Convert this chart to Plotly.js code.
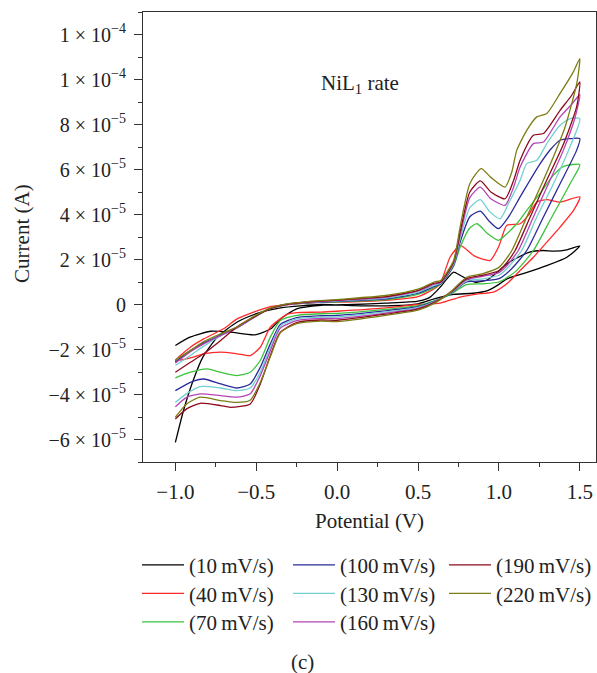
<!DOCTYPE html>
<html>
<head>
<meta charset="utf-8">
<script src="https://cdn.plot.ly/plotly-3.0.1.min.js"></script>
<style>html,body{margin:0;padding:0;background:#fff;}#chart{width:597px;height:673px;}</style>
</head>
<body>
<div id="chart"></div>
<script>
// Current values are in units of 1e-5 A; potential in V.
// Each sweep: forward scan -1.0 -> 1.5 V, then reverse scan 1.5 -> -1.0 V.
const UNIT = 1e-5;
const rates = ["(10\u2009mV/s)","(40\u2009mV/s)","(70\u2009mV/s)","(100\u2009mV/s)","(130\u2009mV/s)","(160\u2009mV/s)","(190\u2009mV/s)","(220\u2009mV/s)"];
const colors = ["#000000","#ff2a2a","#3cc23c","#2a2a9c","#72d0d0","#b444b4","#8c0a1c","#7c7c14"];

// 10 mV/s
const x10 = [-1.0,-0.91,-0.78,-0.66,-0.51,-0.41,-0.35,-0.25,-0.1,0.1,0.3,0.5,0.575,0.637,0.68,0.72,0.76,0.8,0.86,0.93,1.0,1.05,1.12,1.19,1.27,1.34,1.42,1.5,
             1.42,1.3,1.15,1.05,0.99,0.93,0.84,0.72,0.6,0.5,0.3,0.1,-0.1,-0.35,-0.5,-0.62,-0.74,-0.83,-0.89,-0.95,-1.0];
const y10 = [-1.82,-1.45,-1.19,-1.23,-1.35,-1.08,-0.64,-0.19,-0.04,0.0,0.06,0.15,0.33,0.77,1.15,1.44,1.3,1.14,0.99,1.1,1.5,1.81,2.1,2.33,2.4,2.37,2.43,2.6,
             2.1,1.74,1.37,1.14,0.85,0.62,0.5,0.45,0.25,0.03,-0.06,-0.05,0.0,-0.15,-0.41,-0.79,-1.45,-2.34,-3.38,-4.72,-6.13];
// 40 mV/s
const x40 = [-1.0,-0.907,-0.825,-0.702,-0.619,-0.516,-0.413,-0.25,-0.104,0.1,0.3,0.5,0.6,0.637,0.698,0.76,0.85,0.946,1.0,1.049,1.131,1.18,1.234,1.296,1.378,1.5,
             1.461,1.378,1.296,1.213,1.131,1.049,0.966,0.884,0.76,0.637,0.5,0.3,0.0,-0.1,-0.25,-0.31,-0.413,-0.475,-0.537,-0.619,-0.722,-0.825,-0.907,-1.0];
const y40 = [-2.49,-1.9,-1.53,-1.08,-0.64,-0.34,-0.09,0.03,0.1,0.12,0.18,0.35,0.7,0.92,2.1,2.63,2.15,1.96,2.6,3.52,3.59,3.95,4.55,4.66,4.55,4.78,
             4.18,3.44,2.77,2.1,1.51,0.92,0.55,0.48,0.33,0.06,0.0,-0.15,-0.3,-0.34,-0.36,-0.44,-1.01,-1.9,-2.27,-2.19,-2.12,-2.19,-2.37,-2.49];
// 70 mV/s
const x70 = [-1.0,-0.907,-0.825,-0.72,-0.62,-0.52,-0.42,-0.32,-0.2,0.0,0.3,0.5,0.6,0.64,0.72,0.76,0.82,0.865,0.93,0.997,1.05,1.11,1.172,1.255,1.337,1.4,1.5,
             1.44,1.327,1.213,1.1,1.0,0.9,0.8,0.7,0.6,0.5,0.3,0.0,-0.1,-0.25,-0.351,-0.413,-0.475,-0.537,-0.62,-0.722,-0.804,-0.907,-1.0];
const y70 = [-2.57,-2.05,-1.7,-1.35,-1.02,-0.6,-0.2,-0.02,0.06,0.12,0.22,0.45,0.75,0.9,1.7,2.55,3.4,3.59,3.15,2.85,3.15,3.59,4.18,4.95,5.75,6.14,6.22,
             5.37,3.89,2.4,1.45,1.0,0.92,0.88,0.45,0.16,-0.05,-0.22,-0.4,-0.41,-0.48,-0.71,-1.45,-2.49,-3.01,-3.16,-3.01,-2.86,-3.01,-3.26];
// 100 mV/s
const x100 = [-1.0,-0.907,-0.825,-0.72,-0.62,-0.52,-0.42,-0.32,-0.2,0.0,0.3,0.5,0.6,0.64,0.72,0.76,0.82,0.885,0.94,0.997,1.06,1.131,1.19,1.255,1.32,1.378,1.44,1.5,
              1.48,1.378,1.275,1.172,1.08,1.0,0.9,0.8,0.7,0.6,0.5,0.3,0.0,-0.1,-0.25,-0.351,-0.413,-0.475,-0.537,-0.62,-0.72,-0.825,-0.907,-1.0];
const y100 = [-2.57,-2.05,-1.72,-1.37,-1.03,-0.6,-0.2,-0.02,0.07,0.14,0.25,0.5,0.8,0.92,1.75,2.77,3.9,4.15,3.7,3.37,3.9,4.78,5.5,6.26,6.9,7.3,7.37,7.37,
              6.85,5.37,3.89,2.4,1.6,1.15,1.05,1.0,0.48,0.14,-0.1,-0.28,-0.48,-0.5,-0.58,-0.89,-1.75,-2.79,-3.53,-3.71,-3.53,-3.31,-3.46,-3.83];
// 130 mV/s
const x130 = [-1.0,-0.907,-0.825,-0.72,-0.62,-0.52,-0.42,-0.32,-0.2,0.0,0.3,0.5,0.6,0.64,0.72,0.76,0.82,0.885,0.94,1.007,1.06,1.131,1.172,1.234,1.3,1.378,1.44,1.5,
              1.43,1.337,1.234,1.141,1.05,1.0,0.9,0.8,0.7,0.6,0.5,0.3,0.0,-0.1,-0.25,-0.351,-0.413,-0.475,-0.537,-0.62,-0.72,-0.846,-0.928,-1.0];
const y130 = [-2.71,-2.27,-1.85,-1.4,-1.05,-0.6,-0.2,-0.02,0.08,0.16,0.28,0.55,0.85,0.95,1.8,2.92,4.3,4.66,4.15,3.81,4.5,5.52,6.26,6.41,7.2,7.97,8.26,8.26,
              6.85,5.37,3.89,2.4,1.6,1.3,1.14,1.05,0.5,0.12,-0.13,-0.33,-0.55,-0.56,-0.64,-0.97,-1.9,-3.01,-3.71,-3.83,-3.71,-3.65,-3.95,-4.35];
// 160 mV/s
const x160 = [-1.0,-0.907,-0.825,-0.72,-0.62,-0.52,-0.42,-0.32,-0.2,0.0,0.3,0.5,0.6,0.64,0.72,0.76,0.82,0.885,0.95,1.038,1.09,1.131,1.213,1.275,1.378,1.45,1.5,
              1.47,1.398,1.306,1.213,1.12,1.04,1.0,0.9,0.8,0.7,0.6,0.5,0.3,0.0,-0.1,-0.25,-0.351,-0.413,-0.475,-0.537,-0.62,-0.72,-0.846,-0.928,-1.0];
const y160 = [-2.6,-2.1,-1.75,-1.38,-1.04,-0.6,-0.2,-0.01,0.09,0.18,0.32,0.6,0.9,0.98,1.85,3.07,4.75,5.22,4.7,4.41,5.2,6.11,7.15,7.22,8.34,8.9,9.33,
              8.3,6.85,5.37,3.89,2.4,1.65,1.42,1.25,1.1,0.52,0.1,-0.17,-0.38,-0.62,-0.62,-0.72,-1.05,-2.05,-3.16,-3.97,-4.12,-4.05,-3.97,-4.12,-4.54];
// 190 mV/s
const x190 = [-1.0,-0.907,-0.825,-0.72,-0.62,-0.52,-0.42,-0.32,-0.2,0.0,0.3,0.5,0.6,0.64,0.72,0.76,0.82,0.885,0.95,1.038,1.09,1.131,1.213,1.275,1.378,1.45,1.5,
              1.48,1.4,1.285,1.193,1.1,1.03,1.0,0.9,0.8,0.7,0.6,0.5,0.3,0.0,-0.1,-0.25,-0.351,-0.413,-0.475,-0.537,-0.66,-0.72,-0.846,-0.93,-1.0];
const y190 = [-3.01,-2.57,-2.19,-1.6,-1.0,-0.58,-0.2,0.0,0.1,0.2,0.35,0.63,0.95,1.0,1.9,3.22,5.0,5.49,5.0,4.7,5.5,6.41,7.52,7.6,8.63,9.3,9.89,
              8.78,7.15,5.37,3.89,2.4,1.7,1.5,1.3,1.15,0.54,0.08,-0.21,-0.43,-0.7,-0.69,-0.8,-1.23,-2.27,-3.53,-4.42,-4.57,-4.49,-4.39,-4.64,-5.09];
// 220 mV/s
const x220 = [-1.0,-0.907,-0.825,-0.72,-0.62,-0.52,-0.42,-0.32,-0.2,0.0,0.3,0.5,0.6,0.64,0.72,0.76,0.82,0.89,0.95,1.038,1.08,1.11,1.172,1.234,1.296,1.378,1.46,1.5,
              1.481,1.409,1.353,1.265,1.172,1.08,1.0,0.9,0.8,0.7,0.6,0.5,0.3,0.0,-0.1,-0.25,-0.35,-0.41,-0.475,-0.54,-0.64,-0.72,-0.846,-0.93,-1.0];
const y220 = [-2.46,-2.05,-1.65,-1.3,-1.0,-0.55,-0.17,0.02,0.12,0.22,0.4,0.68,1.0,1.07,1.96,3.44,5.37,6.04,5.65,5.22,5.9,6.85,7.74,8.34,8.49,9.38,10.34,10.93,
              9.82,7.89,6.85,5.37,3.89,2.4,1.65,1.37,1.21,0.55,0.05,-0.25,-0.48,-0.76,-0.74,-0.85,-1.25,-2.27,-3.46,-4.27,-4.35,-4.27,-4.12,-4.42,-5.01];

const xs = [x10,x40,x70,x100,x130,x160,x190,x220];
const ys = [y10,y40,y70,y100,y130,y160,y190,y220];
// legend grid: column and row of each entry
const legendCol = [0,0,0,1,1,1,2,2];
const legendRow = [0,1,2,0,1,2,0,1];

const xTickVals = [-1.0,-0.5,0.0,0.5,1.0,1.5];
const xTickText = ["\u22121.0","\u22120.5","0.0","0.5","1.0","1.5"];
const yTickVals = [-6e-5,-4e-5,-2e-5,0,2e-5,4e-5,6e-5,8e-5,1e-4,1.2e-4];
const yTickText = ["\u22126 \u00d7 10<sup>\u22125</sup>","\u22124 \u00d7 10<sup>\u22125</sup>","\u22122 \u00d7 10<sup>\u22125</sup>","0",
  "2 \u00d7 10<sup>\u22125</sup>","4 \u00d7 10<sup>\u22125</sup>","6 \u00d7 10<sup>\u22125</sup>","8 \u00d7 10<sup>\u22125</sup>",
  "1 \u00d7 10<sup>\u22124</sup>","1 \u00d7 10<sup>\u22124</sup>"];

const FONT = "Liberation Serif, Times New Roman, serif";
const TXT = "#222";
const colPx = [137, 288, 444];
const rowPx = [565.2, 593.7, 622.2];
const legendIds = rates.map((_, i) => i === 0 ? "legend" : "legend" + (i + 1));

const traces = xs.map((xv, i) => ({
  type: "scatter", mode: "lines",
  x: xv, y: ys[i].map(v => v * UNIT),
  name: rates[i], legend: legendIds[i],
  line: {color: colors[i], width: 1.3, shape: "spline", smoothing: 0.6},
  hoverinfo: "skip"
}));

const layout = {
  width: 597, height: 673,
  margin: {l: 143, r: 1, t: 12, b: 211, autoexpand: false},
  paper_bgcolor: "#fff", plot_bgcolor: "#fff",
  font: {family: FONT, size: 21, color: TXT},
  showlegend: true,
  xaxis: {
    range: [-1.2, 1.6], tickmode: "array", tickvals: xTickVals, ticktext: xTickText,
    ticks: "outside", ticklen: 8, tickwidth: 1, tickcolor: "#333", ticklabelstandoff: 3,
    minor: {tickmode: "linear", tick0: 0, dtick: 0.25, ticks: "outside", ticklen: 4, tickcolor: "#333"},
    showline: true, linecolor: "#333", linewidth: 1, mirror: true,
    showgrid: false, zeroline: false, automargin: false,
    tickfont: {family: FONT, size: 21, color: TXT},
    title: {text: "Potential (V)", font: {family: FONT, size: 21, color: TXT}, standoff: 10}
  },
  yaxis: {
    range: [-7e-5, 1.3e-4], tickmode: "array", tickvals: yTickVals, ticktext: yTickText,
    ticks: "outside", ticklen: 8, tickwidth: 1, tickcolor: "#333", ticklabelstandoff: 4,
    minor: {tickmode: "linear", tick0: 0, dtick: 1e-5, ticks: "outside", ticklen: 4, tickcolor: "#333"},
    showline: true, linecolor: "#333", linewidth: 1, mirror: true,
    showgrid: false, zeroline: false, automargin: false,
    tickfont: {family: FONT, size: 20, color: TXT}
  },
  annotations: [
    {text: "Current (A)", xref: "paper", yref: "paper", x: -0.266, y: 0.508, textangle: -90,
     xanchor: "center", yanchor: "middle", showarrow: false, font: {family: FONT, size: 21, color: TXT}},
    {text: "NiL<sub>1</sub> rate", xref: "paper", yref: "paper", x: 0.479, y: 0.84,
     xanchor: "center", yanchor: "middle", showarrow: false, font: {family: FONT, size: 21, color: TXT}},
    {text: "(c)", xref: "paper", yref: "paper", x: 0.353, y: -0.4438,
     xanchor: "center", yanchor: "middle", showarrow: false, font: {family: FONT, size: 21, color: TXT}}
  ]
};
legendIds.forEach((id, i) => {
  layout[id] = {
    x: colPx[legendCol[i]] / 597, y: 1 - rowPx[legendRow[i]] / 673,
    xref: "container", yref: "container", xanchor: "left", yanchor: "middle",
    bgcolor: "rgba(0,0,0,0)", borderwidth: 0, itemwidth: 42,
    font: {family: FONT, size: 21, color: TXT}
  };
});

Plotly.newPlot("chart", traces, layout, {staticPlot: true, displayModeBar: false});
</script>
</body>
</html>
